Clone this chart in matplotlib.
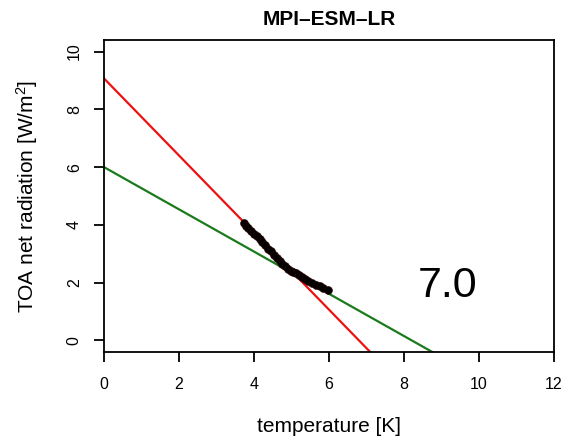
import numpy as np
import matplotlib
matplotlib.use("Agg")
import matplotlib.pyplot as plt

plt.rcParams['font.family'] = ['Liberation Sans', 'DejaVu Sans']
plt.rcParams['mathtext.default'] = 'regular'

# Gregory-style regression: annual means of TOA imbalance vs temperature change
temp = [3.72, 3.78, 3.85, 3.92, 4.0, 4.08, 4.15, 4.22, 4.3, 4.38, 4.45, 4.52,
        4.6, 4.68, 4.75, 4.82, 4.9, 4.98, 5.05, 5.12, 5.2, 5.28, 5.36, 5.45,
        5.55, 5.65, 5.75, 5.85, 5.96]
toa = [4.05, 3.95, 3.88, 3.8, 3.7, 3.6, 3.52, 3.42, 3.3, 3.18, 3.08, 2.97,
       2.85, 2.74, 2.64, 2.56, 2.48, 2.42, 2.38, 2.33, 2.27, 2.2, 2.13, 2.06,
       2.0, 1.93, 1.87, 1.8, 1.73]

# regression lines (intercept, slope)
fit_red = (9.07, -1.334)
fit_green = (6.0, -0.731)
ecs_label = "7.0"

fig = plt.figure(figsize=(5.68, 4.41), dpi=100)
ax = fig.add_axes([0.1831, 0.2018, 0.7923, 0.7075])

xx = np.array([0.0, 12.0])
ax.plot(xx, fit_red[0] + fit_red[1] * xx, color='#ee1111', lw=1.6)
ax.plot(xx, fit_green[0] + fit_green[1] * xx, color='#1b7a1b', lw=1.6)
ax.plot(temp, toa, 'o', color='black', ms=5.5, mec='#220000', mew=0.6)

ax.text(9.15, 1.9, ecs_label, fontsize=31, ha='center', va='center')

ax.set_xlim(0, 12)
ax.set_ylim(-0.4, 10.4)
ax.set_xticks(range(0, 13, 2))
ax.set_yticks(range(0, 11, 2))
ax.tick_params(direction='out', length=7, width=1.3, labelsize=11.5, pad=9)
ax.tick_params(axis='x', pad=11)
for lab in ax.get_yticklabels():
    lab.set_rotation(90)
    lab.set_va('center')
for s in ax.spines.values():
    s.set_linewidth(1.3)

ax.set_title("MPI\u2013ESM\u2013LR", fontsize=15, fontweight='bold', pad=11)
ax.set_xlabel("temperature [K]", fontsize=15, labelpad=18)
ax.set_ylabel("TOA net radiation [W/m$^2$]", fontsize=15, labelpad=19)

fig.savefig("out.png", dpi=100)
